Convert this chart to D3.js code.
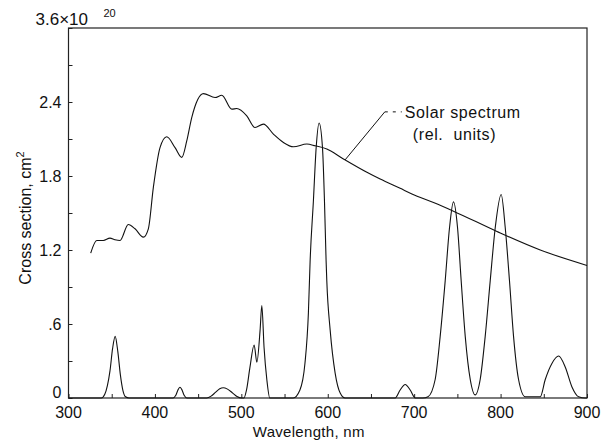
<!DOCTYPE html>
<html>
<head>
<meta charset="utf-8">
<script src="https://cdn.jsdelivr.net/npm/d3@7"></script>
<style>
  body { margin: 0; background: #fff; }
  text { font-family: "Liberation Sans", Arial, sans-serif; fill: #111; }
</style>
</head>
<body>
<div id="chart"></div>
<script>
// cross section (wavelength nm, value x1e-20 cm2)
var crossWl = [300,338,342,345,348,351,354,357,360,363,366,370,
  421,424,427,429,431,434,437,
  460,465,470,475,479,484,490,495,500,
  503,506,510,514.8,518,521.7,523.7,526.3,529.5,533,
  560,567.8,573.6,577.6,579.6,583.4,586.6,590,593.9,596.2,598.1,598.9,602.8,608.6,614.4,620,
  678,683.8,689.6,695.4,701.2,710,
  716,724.3,730.1,735.9,740.9,745.5,750.2,754.4,759.1,764.9,770.6,776.4,782.2,788,793.8,800.7,805.4,810.3,815,820.8,828.5,
  845.9,851.7,859.4,867.1,874.9,882.6,890.3,898,900];
var crossVal = [0,0,0.03,0.1,0.22,0.4,0.5,0.38,0.19,0.06,0.01,0,
  0,0.02,0.07,0.087,0.07,0.02,0,
  0,0.015,0.045,0.075,0.083,0.072,0.04,0.012,0,
  0,0.065,0.25,0.43,0.29,0.55,0.75,0.41,0.15,0,
  0,0.065,0.28,0.69,1.11,1.6,2.03,2.23,2.03,1.6,1.11,0.95,0.55,0.2,0.04,0,
  0,0.065,0.11,0.065,0,0,
  0.01,0.15,0.5,0.95,1.38,1.59,1.38,0.95,0.5,0.15,0.025,0.15,0.5,0.95,1.38,1.65,1.38,0.95,0.5,0.15,0.01,
  0.01,0.15,0.28,0.34,0.25,0.09,0.01,0,0];

// solar spectrum (relative units on same scale)
var solarWl = [325.7,332.7,340.3,348,353.8,359.6,369.2,377,386.6,392.4,398.2,405.9,413.7,423.3,431.1,436.9,442.6,
  456.1,469.6,477.4,489,494.7,506.3,515.9,525.5,537.1,548.7,560.3,575.8,585.4,598.9,618.2,645.3,660.7,683.8,
  697.4,722.4,745.5,795.8,845.9,900];
var solarVal = [1.175,1.277,1.277,1.296,1.283,1.277,1.407,1.372,1.304,1.372,1.708,2.03,2.118,2.03,1.951,2.086,2.274,
  2.468,2.436,2.455,2.342,2.347,2.288,2.193,2.221,2.14,2.072,2.037,2.059,2.045,2.019,1.938,1.83,1.775,1.7,
  1.655,1.585,1.515,1.35,1.2,1.075];

var xTicks = [300,400,500,600,700,800,900];
var yTicks = [0,0.6,1.2,1.8,2.4];
var yTickLabels = ["0",".6","1.2","1.8","2.4"];

var width = 613, height = 443;
var margin = {top: 28, left: 68.5, right: 26, bottom: 45};

var svg = d3.select("#chart").append("svg")
  .attr("width", width)
  .attr("height", height);

var x = d3.scaleLinear().domain([300, 900]).range([margin.left, width - margin.right]);
var y = d3.scaleLinear().domain([0, 3.0]).range([height - margin.bottom, margin.top]);

// frame
svg.append("rect")
  .attr("x", x(300)).attr("y", y(3.0))
  .attr("width", x(900) - x(300)).attr("height", y(0) - y(3.0))
  .style("fill", "none").style("stroke", "#222").style("stroke-width", 1.2);

// ticks inward
svg.append("g")
  .attr("transform", "translate(0," + y(0) + ")")
  .call(d3.axisTop(x).tickValues(d3.range(300, 901, 50)).tickSize(4).tickFormat(""))
  .call(function(g){ g.select(".domain").remove(); g.selectAll("line").style("stroke", "#222"); });

svg.append("g")
  .attr("transform", "translate(" + x(300) + ",0)")
  .call(d3.axisRight(y).tickValues(d3.range(0, 3.01, 0.3)).tickSize(4).tickFormat(""))
  .call(function(g){ g.select(".domain").remove(); g.selectAll("line").style("stroke", "#222"); });

// tick labels
svg.append("g").selectAll("text")
  .data(xTicks).enter().append("text")
  .attr("x", function(d){ return x(d); })
  .attr("y", y(0) + 20)
  .attr("text-anchor", "middle")
  .style("font-size", "16px")
  .text(function(d){ return d; });

svg.append("g").selectAll("text")
  .data(yTicks).enter().append("text")
  .attr("x", x(300) - 7)
  .attr("y", function(d){ return d === 0 ? y(d) - 0.5 : y(d) + 5.5; })
  .attr("text-anchor", "end")
  .style("font-size", "16px")
  .text(function(d, i){ return yTickLabels[i]; });

svg.append("text")
  .attr("x", x(300) - 33)
  .attr("y", y(3.0) - 3)
  .style("font-size", "17px")
  .text("3.6\u00d710");
svg.append("text")
  .attr("x", x(300) + 35)
  .attr("y", y(3.0) - 11)
  .style("font-size", "11px")
  .text("20");

// axis titles
svg.append("text")
  .attr("x", (x(300) + x(900)) / 2 - 19)
  .attr("y", height - 6)
  .attr("text-anchor", "middle")
  .style("font-size", "15px")
  .style("letter-spacing", "0.3px")
  .text("Wavelength, nm");

var yl = svg.append("text")
  .attr("transform", "translate(31," + 218 + ") rotate(-90)")
  .attr("text-anchor", "middle")
  .style("font-size", "16px");
yl.append("tspan").text("Cross section, cm");
yl.append("tspan").attr("dy", -7).style("font-size", "11px").text("2");

// curves
var line = d3.line()
  .x(function(d){ return x(d[0]); })
  .y(function(d){ return y(d[1]); })
  .curve(d3.curveMonotoneX);

svg.append("path")
  .datum(d3.zip(crossWl, crossVal))
  .attr("d", line)
  .style("fill", "none").style("stroke", "#111").style("stroke-width", 1.1);

svg.append("path")
  .datum(d3.zip(solarWl, solarVal))
  .attr("d", line)
  .style("fill", "none").style("stroke", "#111").style("stroke-width", 1.1);

// label with leader
var note = {wl: 620, val: 1.93, wl2: 666, val2: 2.32};
svg.append("line")
  .attr("x1", x(note.wl)).attr("y1", y(note.val))
  .attr("x2", x(note.wl2)).attr("y2", y(note.val2))
  .style("stroke", "#111").style("stroke-width", 1);
svg.append("line")
  .attr("x1", x(note.wl2)).attr("y1", y(note.val2))
  .attr("x2", x(note.wl2) + 17).attr("y2", y(note.val2))
  .style("stroke", "#111").style("stroke-width", 1).style("stroke-dasharray", "3,5");
svg.append("text")
  .attr("x", x(note.wl2) + 20).attr("y", y(note.val2) + 6)
  .style("font-size", "16px")
  .style("letter-spacing", "0.6px")
  .text("Solar spectrum");
svg.append("text")
  .attr("x", x(note.wl2) + 28).attr("y", y(note.val2) + 28)
  .style("font-size", "16px")
  .style("letter-spacing", "0.6px")
  .text("(rel.\u00a0\u00a0units)");
</script>
</body>
</html>
